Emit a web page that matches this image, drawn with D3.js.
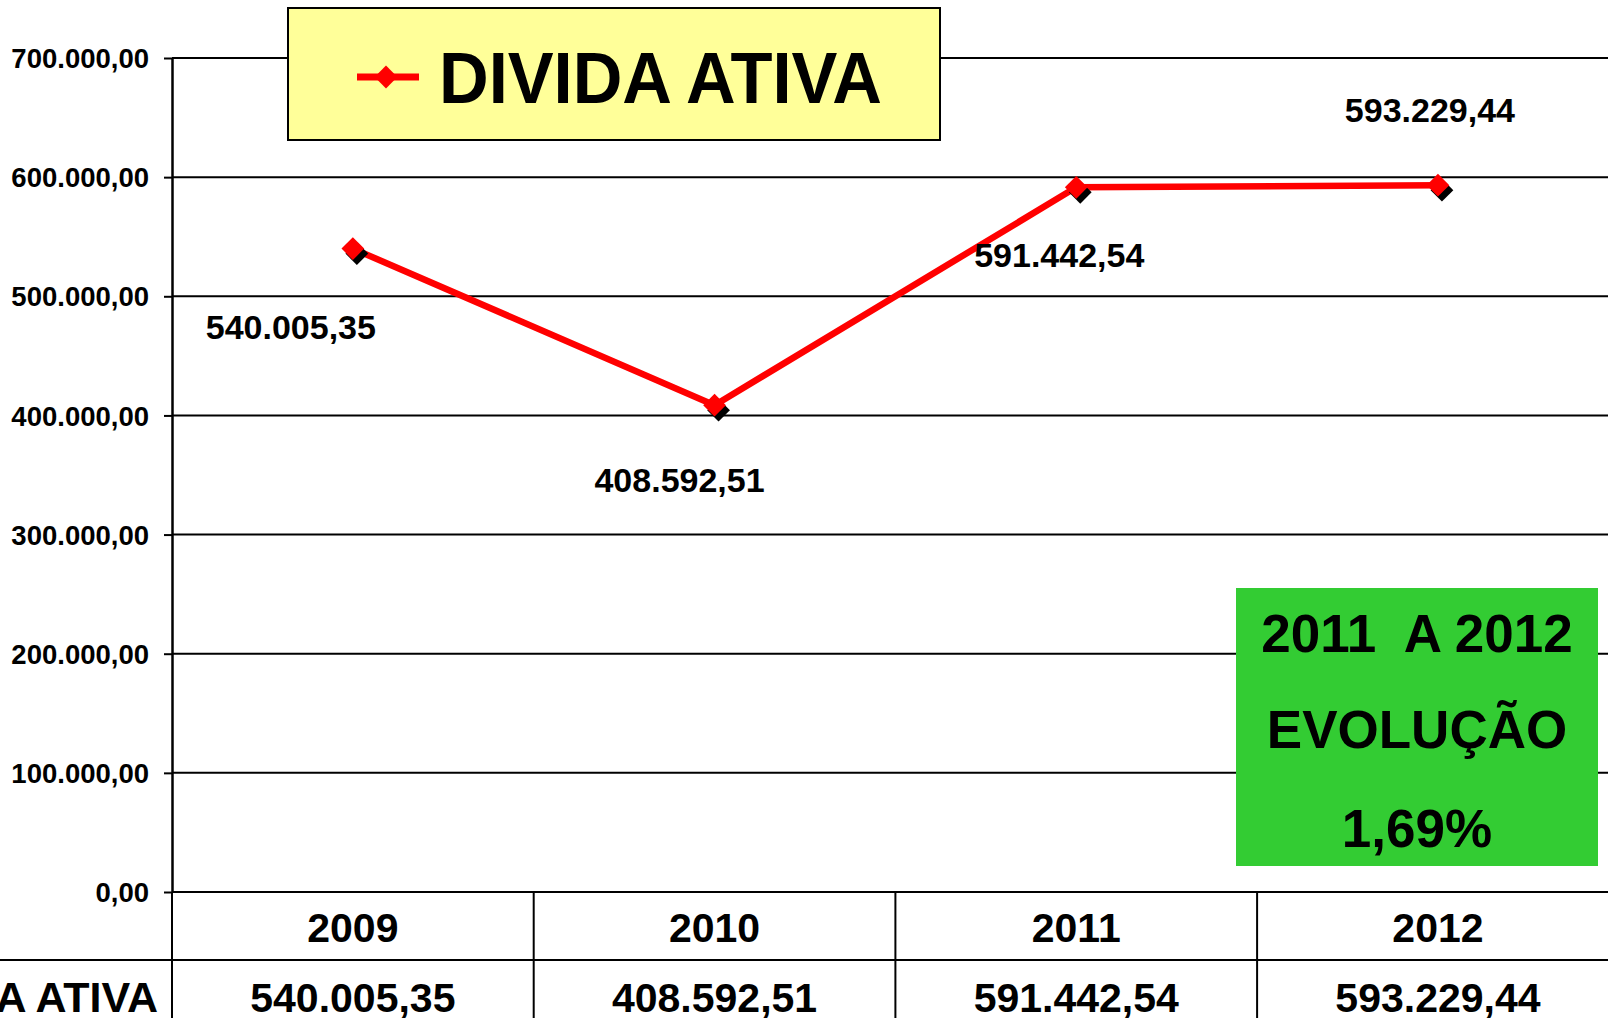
<!DOCTYPE html>
<html>
<head>
<meta charset="utf-8">
<script src="https://cdn.jsdelivr.net/npm/d3@7"></script>
<style>
  html, body { margin: 0; padding: 0; background: #fff; overflow: hidden; }
  svg { display: block; font-family: "Liberation Sans", Arial, sans-serif; font-weight: bold; }
</style>
</head>
<body>
<div id="chart"></div>
<script>
// data
const years = ["2009", "2010", "2011", "2012"];
const dividaAtiva = [540005.35, 408592.51, 591442.54, 593229.44];
const yTicks = [0, 100000, 200000, 300000, 400000, 500000, 600000, 700000];
const seriesName = "DIVIDA ATIVA";
const evolucaoLines = ["2011  A 2012", "EVOLUÇÃO", "1,69%"];

// hand placed data labels (dx, dy from the point), like the original
const labelOffsets = [[-62, 90], [-35, 87], [-17, 80], [-8, -63]];

var width = 1608, height = 1018;
var plotLeft = 172, plotBottom = 892, plotTop = 58;

var br = d3.formatLocale({decimal: ",", thousands: ".", grouping: [3], currency: ["R$", ""]});
var fmt = br.format(",.2f");

var svg = d3.select("#chart").append("svg")
    .attr("width", width)
    .attr("height", height);

var x = d3.scaleBand()
    .domain(years)
    .range([plotLeft, plotLeft + 4 * 361.7]);

var y = d3.scaleLinear()
    .domain([0, 700000])
    .range([plotBottom, plotTop]);

var cx = (d, i) => x(years[i]) + x.bandwidth() / 2;

// gridlines
svg.append("g")
    .selectAll("line")
    .data(yTicks)
    .enter().append("line")
    .attr("x1", plotLeft)
    .attr("x2", width)
    .attr("y1", d => y(d))
    .attr("y2", d => y(d))
    .attr("stroke", "#000")
    .attr("stroke-width", 2);

// y axis
var yAxis = svg.append("g")
    .attr("transform", "translate(" + plotLeft + ",0)")
    .call(d3.axisLeft(y).tickValues(yTicks).tickFormat(fmt).tickSize(8).tickSizeOuter(0).tickPadding(15));
yAxis.select(".domain").attr("stroke", "#000").attr("stroke-width", 2.5);
yAxis.selectAll(".tick line").attr("stroke", "#000").attr("stroke-width", 2);
yAxis.selectAll(".tick text")
    .attr("font-size", 27.5)
    .attr("font-family", "Liberation Sans, Arial, sans-serif")
    .attr("font-weight", "bold")
    .attr("fill", "#000")
    .attr("dy", "0.35em");

// data table under the chart
var table = svg.append("g");
table.append("line")
    .attr("x1", 0).attr("x2", width)
    .attr("y1", 960).attr("y2", 960)
    .attr("stroke", "#000").attr("stroke-width", 2);
table.selectAll("line.sep")
    .data(years)
    .enter().append("line")
    .attr("class", "sep")
    .attr("x1", d => x(d)).attr("x2", d => x(d))
    .attr("y1", plotBottom).attr("y2", height)
    .attr("stroke", "#000").attr("stroke-width", 2);
table.selectAll("text.year")
    .data(years)
    .enter().append("text")
    .attr("class", "year")
    .attr("x", d => x(d) + x.bandwidth() / 2)
    .attr("y", 942)
    .attr("text-anchor", "middle")
    .attr("font-size", 41)
    .text(d => d);
table.selectAll("text.val")
    .data(dividaAtiva)
    .enter().append("text")
    .attr("class", "val")
    .attr("x", cx)
    .attr("y", 1012)
    .attr("text-anchor", "middle")
    .attr("font-size", 41)
    .text(d => fmt(d));
table.append("text")
    .attr("x", 158)
    .attr("y", 1012)
    .attr("text-anchor", "end")
    .attr("font-size", 43)
    .text(seriesName);

// the line
var line = d3.line()
    .x(cx)
    .y(d => y(d));

svg.append("path")
    .datum(dividaAtiva)
    .attr("d", line)
    .attr("fill", "none")
    .attr("stroke", "#ff0000")
    .attr("stroke-width", 6.5)
    .attr("stroke-linejoin", "round");

var diamond = d3.symbol().type(d3.symbolDiamond2).size(330);

// marker shadow, then marker
svg.selectAll("path.shadow")
    .data(dividaAtiva)
    .enter().append("path")
    .attr("class", "shadow")
    .attr("d", diamond)
    .attr("transform", (d, i) => "translate(" + (cx(d, i) + 4) + "," + (y(d) + 5) + ")")
    .attr("fill", "#000");
svg.selectAll("path.marker")
    .data(dividaAtiva)
    .enter().append("path")
    .attr("class", "marker")
    .attr("d", diamond)
    .attr("transform", (d, i) => "translate(" + cx(d, i) + "," + y(d) + ")")
    .attr("fill", "#ff0000");

// data labels
svg.selectAll("text.lbl")
    .data(dividaAtiva)
    .enter().append("text")
    .attr("class", "lbl")
    .attr("x", (d, i) => cx(d, i) + labelOffsets[i][0])
    .attr("y", (d, i) => y(d) + labelOffsets[i][1])
    .attr("text-anchor", "middle")
    .attr("font-size", 34)
    .text(d => fmt(d));

// legend box
var legend = svg.append("g");
legend.append("rect")
    .attr("x", 288).attr("y", 8)
    .attr("width", 652).attr("height", 132)
    .attr("fill", "#ffff99")
    .attr("stroke", "#000")
    .attr("stroke-width", 2);
legend.append("line")
    .attr("x1", 357).attr("x2", 419)
    .attr("y1", 77).attr("y2", 77)
    .attr("stroke", "#ff0000")
    .attr("stroke-width", 7);
legend.append("path")
    .attr("d", diamond)
    .attr("transform", "translate(386,77)")
    .attr("fill", "#ff0000");
legend.append("text")
    .attr("x", 439)
    .attr("y", 103)
    .attr("font-size", 72)
    .attr("textLength", 443)
    .attr("lengthAdjust", "spacingAndGlyphs")
    .text(seriesName);

// evolution box
var evo = svg.append("g");
evo.append("rect")
    .attr("x", 1236).attr("y", 588)
    .attr("width", 362).attr("height", 278)
    .attr("fill", "#33cc33");
evo.selectAll("text")
    .data(evolucaoLines)
    .enter().append("text")
    .attr("x", 1417)
    .attr("y", (d, i) => [652, 748, 847][i])
    .attr("text-anchor", "middle")
    .attr("font-size", 53)
    .style("white-space", "pre")
    .text(d => d);
</script>
</body>
</html>
